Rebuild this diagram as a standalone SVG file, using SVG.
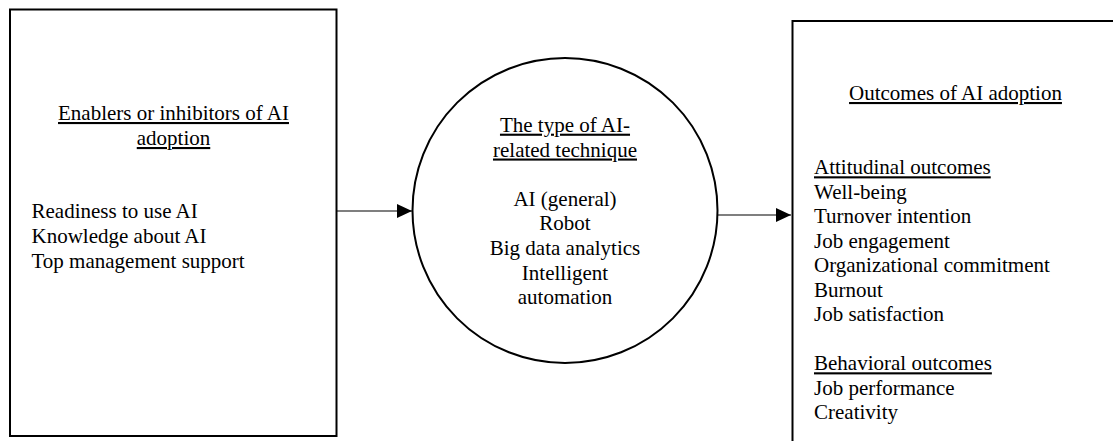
<svg xmlns="http://www.w3.org/2000/svg" width="1113" height="441" viewBox="0 0 1113 441">
<style>
text{font-family:"Liberation Serif","Times New Roman",serif;font-size:21px;fill:#000}
.u{text-decoration:underline}
.m{text-anchor:middle}
.box{fill:#fff;stroke:#000;stroke-width:2}
.conn{stroke:#000;stroke-width:1.2;fill:none}
</style>
<defs>
<marker id="ah" markerWidth="15" markerHeight="14" refX="15" refY="7" orient="auto" markerUnits="userSpaceOnUse">
<path d="M0,0 L15,7 L0,14 Z" fill="#000"/>
</marker>
</defs>
<rect width="1113" height="441" fill="#fff"/>
<g id="connectors">
<line class="conn" x1="337" y1="211" x2="412" y2="211" marker-end="url(#ah)"/>
<line class="conn" x1="717" y1="215" x2="791" y2="215" marker-end="url(#ah)"/>
</g>
<g id="enablers">
<rect class="box" x="10" y="9.5" width="326.5" height="426.5"/>
<text class="m u" x="173.5" y="120">Enablers or inhibitors of AI</text>
<text class="m u" x="173.5" y="145">adoption</text>
<text x="31.5" y="218.3">Readiness to use AI</text>
<text x="31.5" y="242.9">Knowledge about AI</text>
<text x="31.5" y="267.5">Top management support</text>
</g>
<g id="technique">
<circle class="box" cx="565" cy="210.5" r="152.5"/>
<text class="m u" x="565" y="131.7">The type of AI-</text>
<text class="m u" x="565" y="156.5">related technique</text>
<text class="m" x="565" y="206">AI (general)</text>
<text class="m" x="565" y="230.4">Robot</text>
<text class="m" x="565" y="254.8">Big data analytics</text>
<text class="m" x="565" y="279.5">Intelligent</text>
<text class="m" x="565" y="304">automation</text>
</g>
<g id="outcomes">
<rect class="box" x="792.5" y="21" width="400" height="500"/>
<text class="m u" x="955.5" y="100">Outcomes of AI adoption</text>
<text class="u" x="814" y="174.3">Attitudinal outcomes</text>
<text x="814" y="198.8">Well-being</text>
<text x="814" y="223.3">Turnover intention</text>
<text x="814" y="247.8">Job engagement</text>
<text x="814" y="272.3">Organizational commitment</text>
<text x="814" y="296.8">Burnout</text>
<text x="814" y="321.3">Job satisfaction</text>
<text class="u" x="814" y="370.3">Behavioral outcomes</text>
<text x="814" y="394.8">Job performance</text>
<text x="814" y="419.3">Creativity</text>
</g>
</svg>
